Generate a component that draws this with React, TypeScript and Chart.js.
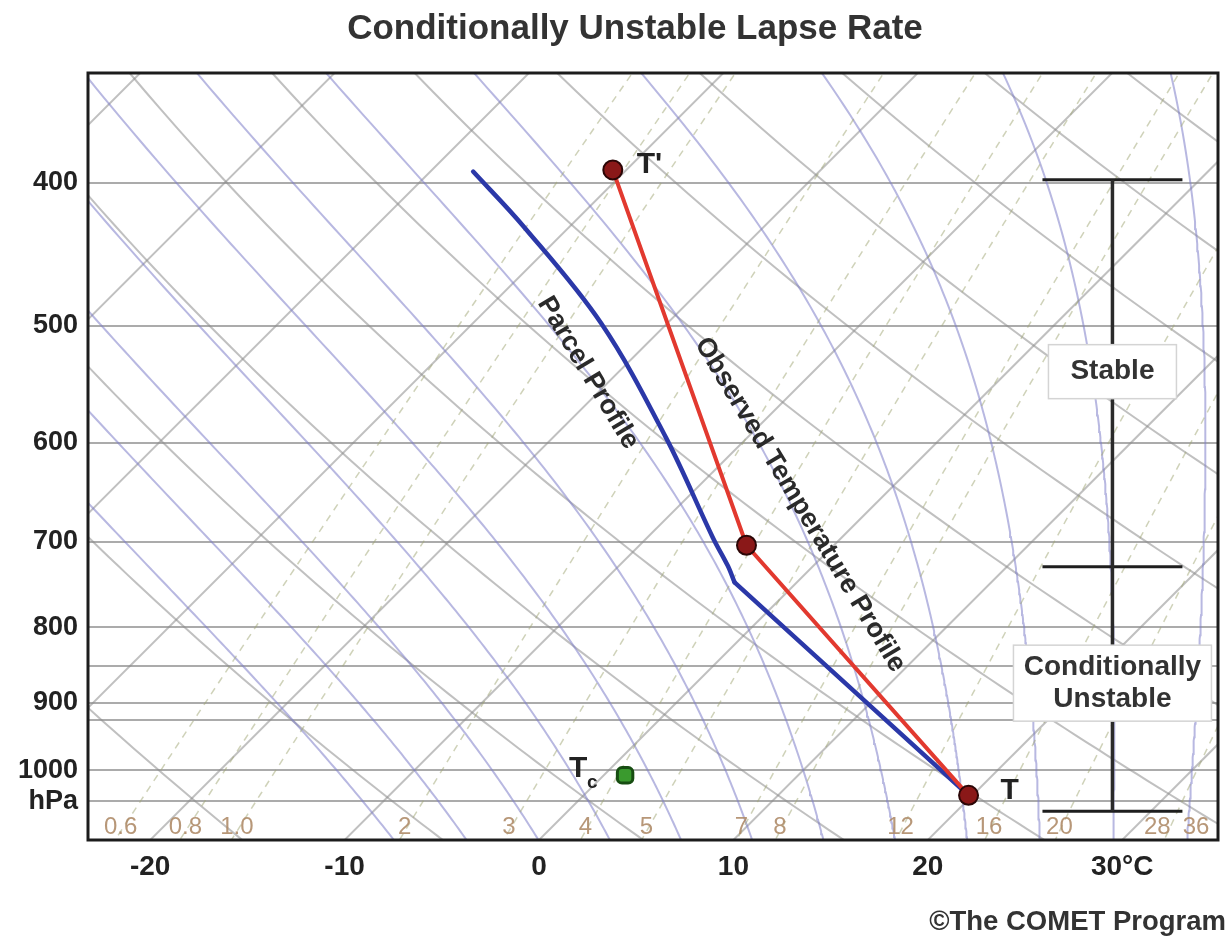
import React, { useEffect, useRef } from 'react';
import { Chart, registerables } from 'chart.js';

Chart.register(...registerables);

// ---------- text ----------
const TITLE = 'Conditionally Unstable Lapse Rate';
const CREDIT = '©The COMET Program';
const STABLE_TEXT = ['Stable'];
const UNSTABLE_TEXT = ['Conditionally', 'Unstable'];
const PARCEL_TEXT = 'Parcel Profile';
const OBS_TEXT = 'Observed Temperature Profile';

// ---------- axes ----------
const ISOBARS = [400, 500, 600, 700, 800, 850, 900, 925, 1000, 1050]; // hPa
const PRESSURE_LABELS: Record<number, string> = {
  400: '400', 500: '500', 600: '600', 700: '700', 800: '800', 900: '900', 1000: '1000', 1050: 'hPa',
};
const TEMP_TICKS = [-20, -10, 0, 10, 20, 30]; // °C at the bottom of the diagram
const P_TOP = 337;
const P_BOTTOM = 1115;
const T_LEFT = -23.2;
const T_RIGHT = 34.93;
const SKEW = 33; // °C of horizontal shift per e-fold of pressure (45° isotherms)

// ---------- soundings ----------
const OBS_P = [1040, 704, 392];
const OBS_T = [19.8, -4.5, -30.7];

// parcel: dry-adiabatic to the LCL (index 1), then moist-adiabatic
const PARCEL_P = [1040, 746, 727, 696, 595, 498, 428, 393];
const PARCEL_T = [19.8, -3.2, -4.4, -6.6, -14.2, -23.4, -32.4, -37.8];
const LCL_INDEX = 1;

const DEW_P = [1008];
const DEW_T = [1.1];

// stability bracket on the right
const STAB_LEVELS = [398, 728, 1066]; // hPa
const STAB_X = 29.5; // skewed-axis units
const STAB_HALF = 3.6;

// ---------- diagram reference lines ----------
const ISOTHERMS = [-60, -50, -40, -30, -20, -10, 0, 10, 20, 30]; // °C
const DRY_ADIABATS = [250, 260, 270, 280, 290, 300, 310, 320, 330, 340, 350, 360, 370]; // K
const MOIST_ADIABATS = [-14, -10, -6, -2, 2, 6, 10, 14, 18, 22, 26, 30, 34]; // θw °C
const MIXING_RATIOS = [0.6, 0.8, 1.0, 2, 3, 4, 5, 7, 8, 12, 16, 20, 28, 36]; // g/kg
const MIXING_LABELS = ['0.6', '0.8', '1.0', '2', '3', '4', '5', '7', '8', '12', '16', '20', '28', '36'];

const FONT = "'Liberation Sans', Arial, sans-serif";

// thermodynamic constants for the diagram grid
const RD = 287.04, CP = 1005.7, LV = 2.501e6, EPS = 0.622, KAPPA = RD / CP;
const es = (tc: number) => 6.112 * Math.exp((17.67 * tc) / (tc + 243.5));
const skewX = (tc: number, p: number) => tc + SKEW * Math.log(P_BOTTOM / p);

function pressureGrid(step: number) {
  const out: number[] = [];
  for (let p = P_TOP - 10; p <= P_BOTTOM + 10; p += step) out.push(p);
  return out;
}

function moistAdiabat(thetaW: number) {
  const rate = (p: number, tk: number) => {
    const e = es(tk - 273.15);
    const rs = (EPS * e) / (p - e);
    return (RD * tk + LV * rs) / (CP + (LV * LV * rs * EPS) / (RD * tk * tk)) / p;
  };
  const step = 5;
  const up: { p: number; tk: number }[] = [];
  let tk = thetaW + 273.15;
  for (let p = 1000; p >= P_TOP - 15; p -= step) {
    up.push({ p, tk });
    const k1 = rate(p, tk);
    const k2 = rate(p - step / 2, tk - (k1 * step) / 2);
    tk -= k2 * step;
  }
  const down: { p: number; tk: number }[] = [];
  tk = thetaW + 273.15;
  for (let p = 1000; p <= P_BOTTOM + 15; p += step) {
    const k1 = rate(p, tk);
    const k2 = rate(p + step / 2, tk + (k1 * step) / 2);
    tk += k2 * step;
    down.push({ p: p + step, tk });
  }
  return [...down.reverse(), ...up].map((d) => ({ x: skewX(d.tk - 273.15, d.p), y: d.p }));
}

const tFromMixing = (w: number, p: number) => {
  const e = (w * p) / (622 + w);
  const l = Math.log(e / 6.112);
  return (243.5 * l) / (17.67 - l);
};

function buildDatasets() {
  const ds: any[] = [];
  const grid = pressureGrid(10);
  const base = { showLine: true, pointRadius: 0, fill: false, tension: 0 };

  ISOTHERMS.forEach((t) =>
    ds.push({
      ...base, order: 8, borderColor: 'rgba(140,140,140,0.55)', borderWidth: 2,
      data: [P_BOTTOM + 10, P_TOP - 10].map((p) => ({ x: skewX(t, p), y: p })),
    })
  );
  DRY_ADIABATS.forEach((th) =>
    ds.push({
      ...base, order: 8, borderColor: 'rgba(140,140,140,0.55)', borderWidth: 2,
      data: grid.map((p) => ({ x: skewX(th * Math.pow(p / 1000, KAPPA) - 273.15, p), y: p })),
    })
  );
  MOIST_ADIABATS.forEach((tw) =>
    ds.push({
      ...base, order: 7, borderColor: 'rgba(125,125,200,0.55)', borderWidth: 2,
      data: moistAdiabat(tw),
    })
  );
  MIXING_RATIOS.forEach((w) =>
    ds.push({
      ...base, order: 6, borderColor: 'rgba(160,165,115,0.5)', borderWidth: 1.5, borderDash: [7, 6],
      data: grid.map((p) => ({ x: skewX(tFromMixing(w, p), p), y: p })),
    })
  );

  // stability bracket
  ds.push({
    ...base, order: 3, borderColor: '#2a2a2a', borderWidth: 3.5,
    data: [{ x: STAB_X, y: STAB_LEVELS[0] }, { x: STAB_X, y: STAB_LEVELS[STAB_LEVELS.length - 1] }],
  });
  STAB_LEVELS.forEach((p) =>
    ds.push({
      ...base, order: 3, borderColor: '#1e1e1e', borderWidth: 3,
      data: [{ x: STAB_X - STAB_HALF, y: p }, { x: STAB_X + STAB_HALF, y: p }],
    })
  );

  const parcelPts = PARCEL_P.map((p, i) => ({ x: skewX(PARCEL_T[i], p), y: p }));
  // parcel: dry segment (straight)
  ds.push({
    ...base, order: 1, borderColor: '#2b38a8', borderWidth: 4.5, borderCapStyle: 'round',
    data: parcelPts.slice(0, LCL_INDEX + 1),
  });
  // parcel: moist segment (smooth)
  ds.push({
    ...base, order: 1, borderColor: '#2b38a8', borderWidth: 4.5, tension: 0.35, borderCapStyle: 'round',
    data: parcelPts.slice(LCL_INDEX),
  });
  // observed
  ds.push({
    ...base, order: 0, borderColor: '#e2392f', borderWidth: 4,
    pointRadius: 9.5, pointBackgroundColor: '#8a1818', pointBorderColor: '#2b0606', pointBorderWidth: 2,
    data: OBS_P.map((p, i) => ({ x: skewX(OBS_T[i], p), y: p })),
  });
  // dew point
  ds.push({
    showLine: false, order: 0, pointRadius: 9, pointStyle: 'rectRounded',
    pointBackgroundColor: '#3a9a2e', pointBorderColor: '#174d12', pointBorderWidth: 3,
    data: DEW_P.map((p, i) => ({ x: skewX(DEW_T[i], p), y: p })),
  });
  return ds;
}

const decorPlugin = {
  id: 'decor',
  afterDraw(chart: any) {
    const { ctx, chartArea: a, scales } = chart;
    const X = (v: number) => scales.x.getPixelForValue(v);
    const Y = (v: number) => scales.y.getPixelForValue(v);
    ctx.save();

    // frame
    ctx.strokeStyle = '#1c1c1c';
    ctx.lineWidth = 3;
    ctx.strokeRect(a.left, a.top, a.right - a.left, a.bottom - a.top);

    // title & credit
    ctx.fillStyle = '#333';
    ctx.font = `bold 35px ${FONT}`;
    ctx.textAlign = 'center';
    ctx.textBaseline = 'middle';
    ctx.fillText(TITLE, (a.left + a.right) / 2 - 18, 29);
    ctx.font = `bold 27.5px ${FONT}`;
    ctx.textAlign = 'right';
    ctx.fillText(CREDIT, chart.width - 5, 922);

    // mixing ratio labels (kept inside the frame and apart from each other)
    ctx.font = `24px ${FONT}`;
    ctx.fillStyle = 'rgba(175,140,105,0.9)';
    ctx.textAlign = 'center';
    const ly = Y(1094);
    const xs = MIXING_RATIOS.map((w) => X(skewX(tFromMixing(w, 1100), 1100)));
    const ws = MIXING_LABELS.map((t) => ctx.measureText(t).width);
    let limit = a.right - 22;
    for (let i = xs.length - 1; i >= 0; i--) {
      xs[i] = Math.max(Math.min(xs[i], limit), a.left + 22);
      if (i > 0) limit = xs[i] - ws[i] / 2 - ws[i - 1] / 2 - 12;
    }
    MIXING_LABELS.forEach((t, i) => ctx.fillText(t, xs[i], ly));

    // boxes
    const box = (lines: string[], cx: number, cy: number, w: number, h: number, size: number) => {
      ctx.fillStyle = '#ffffff';
      ctx.fillRect(cx - w / 2, cy - h / 2, w, h);
      ctx.strokeStyle = '#d4d4d4';
      ctx.lineWidth = 1.5;
      ctx.strokeRect(cx - w / 2, cy - h / 2, w, h);
      ctx.fillStyle = '#333';
      ctx.font = `bold ${size}px ${FONT}`;
      ctx.textAlign = 'center';
      ctx.textBaseline = 'middle';
      const lh = size * 1.12;
      lines.forEach((t, i) => ctx.fillText(t, cx, cy + (i - (lines.length - 1) / 2) * lh));
    };
    box(STABLE_TEXT, X(STAB_X), Y(537), 128, 54, 28);
    box(UNSTABLE_TEXT, X(STAB_X), Y(873), 198, 76, 28);

    // rotated profile labels
    const rot = (text: string, x: number, y: number, deg: number) => {
      ctx.save();
      ctx.translate(x, y);
      ctx.rotate((deg * Math.PI) / 180);
      ctx.fillStyle = '#2a2a2a';
      ctx.font = `bold 27px ${FONT}`;
      ctx.textAlign = 'center';
      ctx.textBaseline = 'middle';
      ctx.fillText(text, 0, 0);
      ctx.restore();
    };
    rot(PARCEL_TEXT, X(2.52), Y(538), 59);
    rot(OBS_TEXT, X(13.43), Y(661), 59);

    // point labels
    ctx.fillStyle = '#222';
    ctx.font = `bold 30px ${FONT}`;
    ctx.textAlign = 'left';
    ctx.textBaseline = 'middle';
    const top = OBS_P.length - 1;
    ctx.fillText("T'", X(skewX(OBS_T[top], OBS_P[top])) + 24, Y(OBS_P[top]) - 5);
    ctx.fillText('T', X(skewX(OBS_T[0], OBS_P[0])) + 32, Y(OBS_P[0]) - 5);
    const dx = X(skewX(DEW_T[0], DEW_P[0]));
    const dy = Y(DEW_P[0]);
    ctx.fillText('T', dx - 56, dy - 7);
    ctx.font = `bold 19px ${FONT}`;
    ctx.fillText('c', dx - 38, dy + 7);

    ctx.restore();
  },
};

export default function App() {
  const ref = useRef<HTMLCanvasElement>(null);
  useEffect(() => {
    if (!ref.current) return;
    const chart = new Chart(ref.current, {
      type: 'scatter',
      data: { datasets: buildDatasets() },
      options: {
        responsive: false,
        animation: false,
        devicePixelRatio: 1,
        events: [],
        layout: { padding: { top: 73, right: 13, left: 0, bottom: 0 } },
        plugins: { legend: { display: false }, tooltip: { enabled: false }, title: { display: false } },
        elements: { point: { radius: 0 } },
        scales: {
          x: {
            type: 'linear',
            min: T_LEFT,
            max: T_RIGHT,
            afterBuildTicks: (s: any) => {
              s.ticks = TEMP_TICKS.map((v) => ({ value: v }));
            },
            afterFit: (s: any) => {
              s.height = 102;
            },
            grid: { display: false, drawTicks: false },
            border: { display: false },
            ticks: {
              padding: 10,
              color: '#222',
              autoSkip: false,
              maxRotation: 0,
              font: { size: 28, weight: 'bold', family: FONT },
              callback: (v: any) => (Number(v) === 30 ? '30°C' : String(v)),
            },
          },
          y: {
            type: 'logarithmic',
            reverse: true,
            min: P_TOP,
            max: P_BOTTOM,
            afterBuildTicks: (s: any) => {
              s.ticks = ISOBARS.map((v) => ({ value: v }));
            },
            afterFit: (s: any) => {
              s.width = 88;
            },
            grid: { color: 'rgba(150,150,150,0.8)', lineWidth: 2, drawTicks: false },
            border: { display: false },
            ticks: {
              padding: 10,
              color: '#222',
              autoSkip: false,
              font: { size: 27, weight: 'bold', family: FONT },
              callback: (v: any) => PRESSURE_LABELS[Number(v)] ?? '',
            },
          },
        },
      } as any,
      plugins: [decorPlugin],
    });
    return () => chart.destroy();
  }, []);
  return (
    <div style={{ position: 'absolute', left: 0, top: 0, width: 1231, height: 942, background: '#fff' }}>
      <canvas ref={ref} width={1231} height={942} style={{ display: 'block', width: 1231, height: 942 }} />
    </div>
  );
}
